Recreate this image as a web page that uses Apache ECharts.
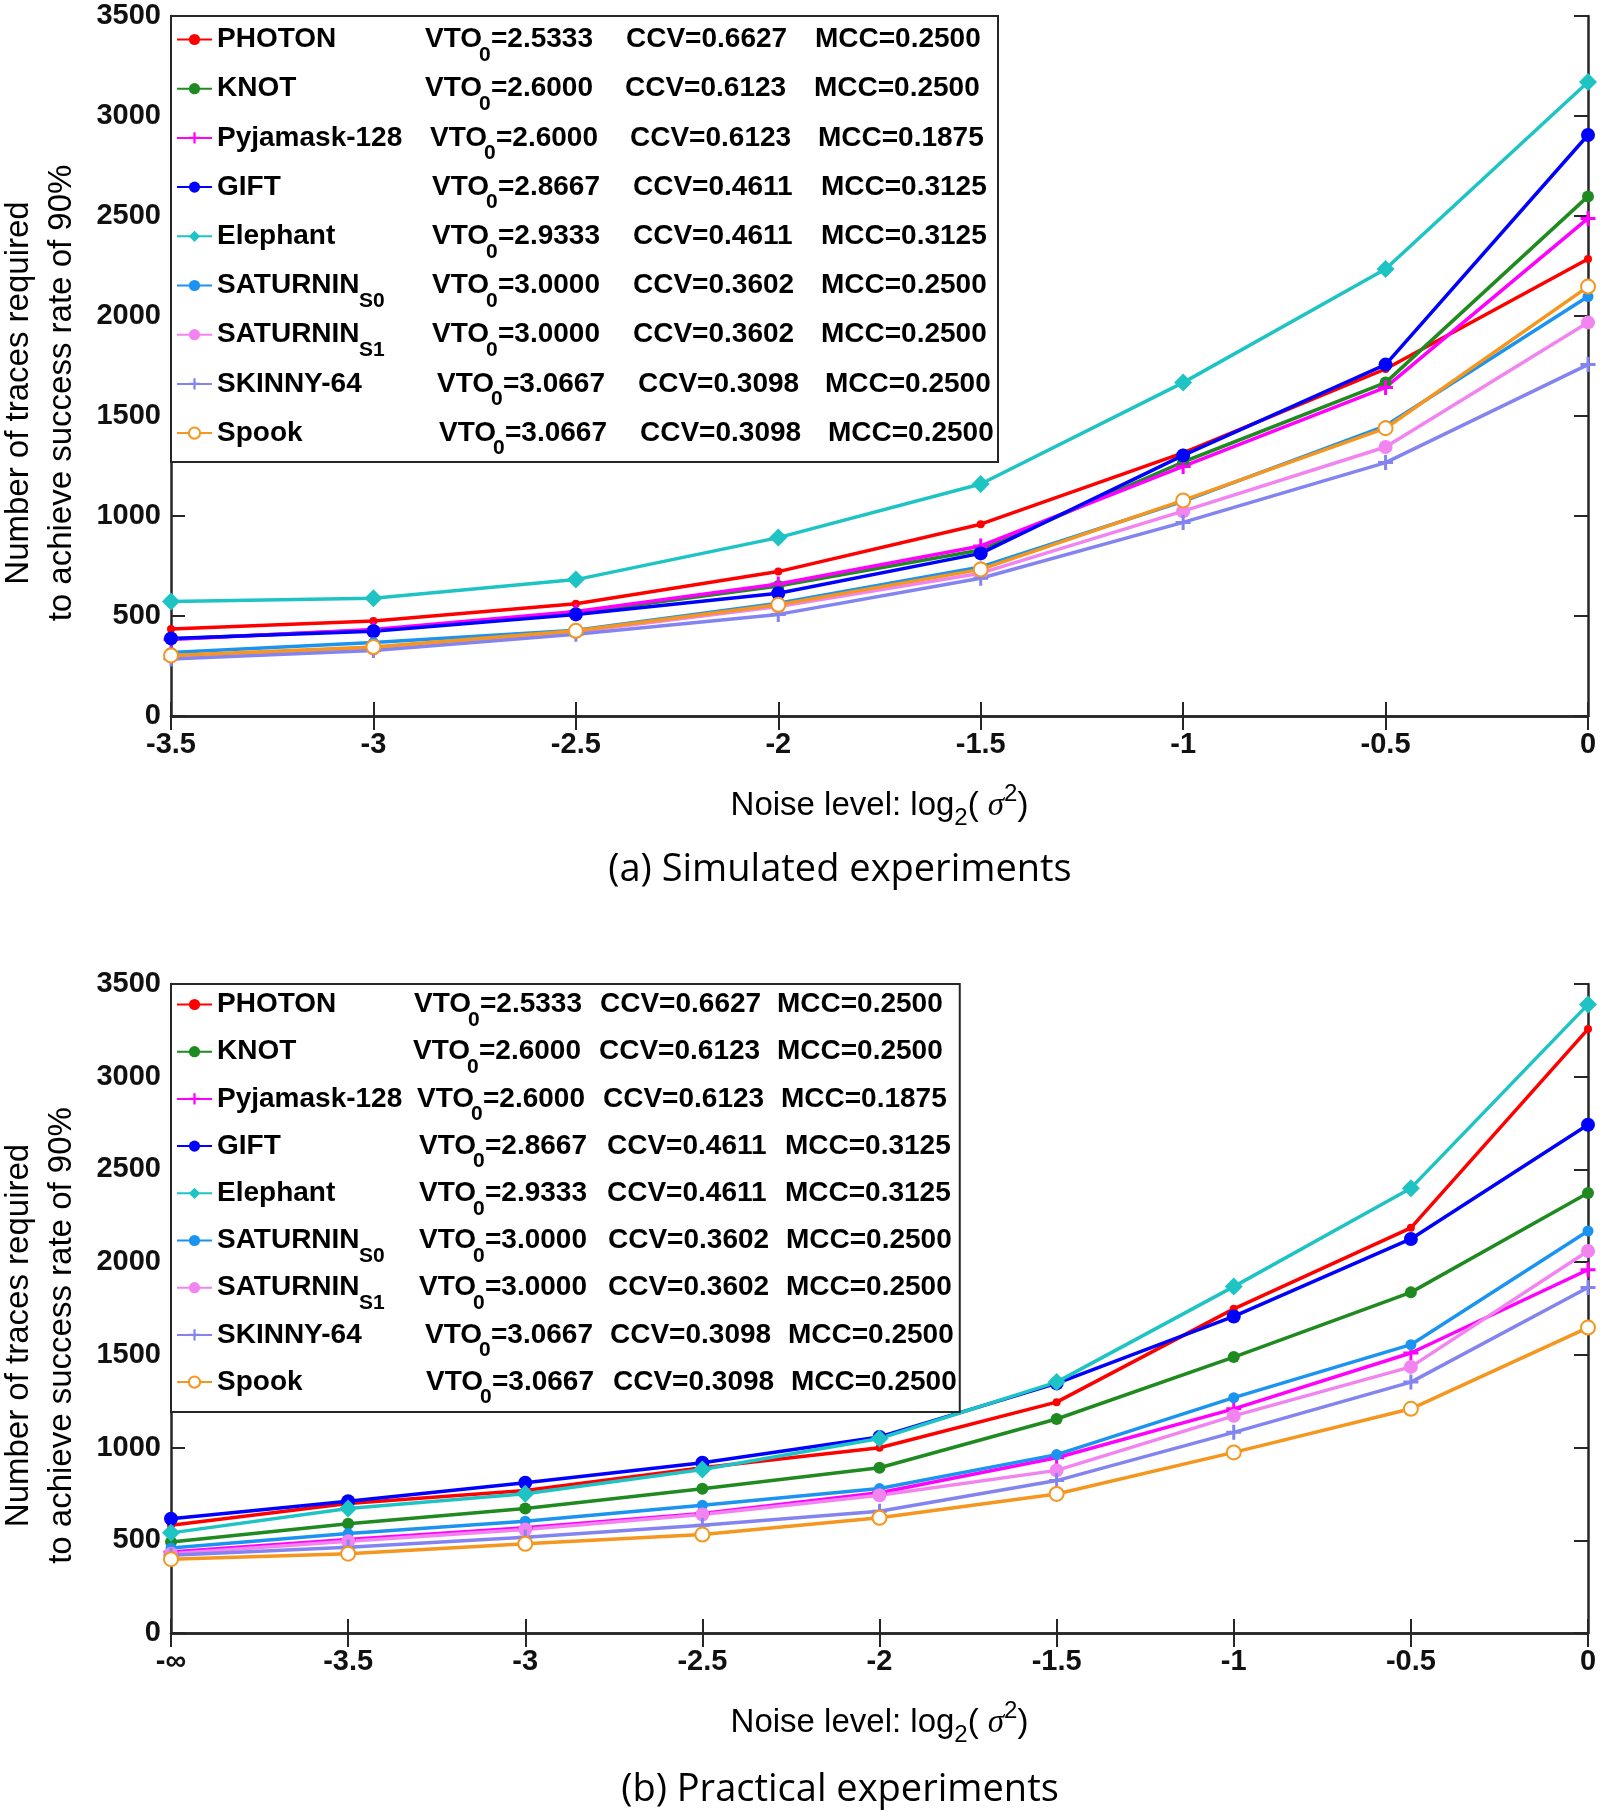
<!DOCTYPE html>
<html><head><meta charset="utf-8">
<script src="https://cdn.jsdelivr.net/npm/echarts@6/dist/echarts.min.js"></script>
<style>html,body{margin:0;padding:0;background:#fff}#c1,#c2{width:1601px;height:906px}</style>
</head><body><div id="c1"></div><div id="c2"></div>
<script>
// ---------- data ----------
const names = ['PHOTON','KNOT','Pyjamask-128','GIFT','Elephant','SATURNIN_S0','SATURNIN_S1','SKINNY-64','Spook'];
const vto = ['2.5333','2.6000','2.6000','2.8667','2.9333','3.0000','3.0000','3.0667','3.0667'];
const ccv = ['0.6627','0.6123','0.6123','0.4611','0.4611','0.3602','0.3602','0.3098','0.3098'];
const mcc = ['0.2500','0.2500','0.1875','0.3125','0.3125','0.2500','0.2500','0.2500','0.2500'];

const xSim  = ['-3.5','-3','-2.5','-2','-1.5','-1','-0.5','0'];
const xPrac = ['-\u221e','-3.5','-3','-2.5','-2','-1.5','-1','-0.5','0'];
const yMin = 0, yMax = 3500, yStep = 500;

// (a) simulated experiments
const simPHOTON   = [435, 475, 561, 722, 959, 1316, 1735, 2285];
const simKNOT     = [385, 430, 515, 650, 830, 1270, 1667, 2598];
const simPyjamask = [382, 433, 522, 660, 850, 1248, 1643, 2488];
const simGIFT     = [388, 424, 508, 614, 813, 1303, 1757, 2905];
const simElephant = [572, 589, 682, 892, 1160, 1667, 2235, 3170];
const simSatS0    = [318, 367, 429, 564, 745, 1073, 1451, 2097];
const simSatS1    = [297, 337, 421, 547, 714, 1024, 1345, 1968];
const simSkinny   = [285, 328, 409, 508, 689, 968, 1267, 1757];
const simSpook    = [303, 345, 426, 556, 733, 1078, 1439, 2147];

// (b) practical experiments
const pracPHOTON   = [581, 698, 769, 891, 999, 1245, 1748, 2185, 3257];
const pracKNOT     = [491, 589, 671, 778, 891, 1154, 1488, 1837, 2373];
const pracPyjamask = [437, 504, 567, 644, 756, 945, 1209, 1510, 1959];
const pracGIFT     = [616, 711, 810, 918, 1057, 1346, 1707, 2125, 2741];
const pracElephant = [540, 671, 751, 882, 1049, 1353, 1868, 2399, 3390];
const pracSatS0    = [459, 536, 603, 689, 779, 962, 1269, 1555, 2168];
const pracSatS1    = [428, 495, 558, 639, 743, 877, 1171, 1435, 2060];
const pracSkinny   = [419, 463, 517, 581, 657, 822, 1082, 1353, 1863];
const pracSpook    = [398, 428, 481, 531, 621, 750, 974, 1209, 1647];

const simData  = [simPHOTON, simKNOT, simPyjamask, simGIFT, simElephant, simSatS0, simSatS1, simSkinny, simSpook];
const pracData = [pracPHOTON, pracKNOT, pracPyjamask, pracGIFT, pracElephant, pracSatS0, pracSatS1, pracSkinny, pracSpook];

// ---------- styles ----------
const colors = ['#FF0000','#1F8A1F','#FF00FF','#0000FF','#1EC4C4','#1A94F0','#F284F0','#8484F0','#F5961E'];
const PLUS = 'path://M4,0 H6 V4 H10 V6 H6 V10 H4 V6 H0 V4 H4 Z';
const symbols = ['circle','circle',PLUS,'circle','diamond','circle','circle',PLUS,'emptyCircle'];
const symbolSizes = [8, 12, 15, 14, 18, 11, 14, 15, 14];
// legend column starts (VTO, CCV, MCC) per row, in page px
const colsSim  = [[424,625,814],[424,624,813],[429,629,817],[431,632,820],[431,632,820],[431,632,820],[431,632,820],[436,637,824],[438,639,827]];
const colsPrac = [[413,599,776],[412,598,776],[416,602,780],[418,606,784],[418,606,784],[418,607,785],[418,607,785],[424,609,787],[425,612,790]];

const SANS = 'Liberation Sans';
const AX = '#262626';
const SUBNAME_W = 142;

function legendRich(cols, textEnd) {
  const base = {fontSize: 28, fontWeight: 'bold', fontFamily: SANS, color: '#000', lineHeight: 34};
  const sub = {fontSize: 21, fontWeight: 'bold', fontFamily: SANS, color: '#000', lineHeight: 8, height: 10, padding: [31, 0, 0, 0]};
  const rich = {
    v:  Object.assign({}, base, {width: 54}),
    vs: Object.assign({}, sub, {width: 12})
  };
  cols.forEach((c, i) => {
    const hasSub = names[i].indexOf('_') >= 0;
    rich['n' + i] = Object.assign({}, base, {width: hasSub ? SUBNAME_W : c[0] - 216});
    rich['ns' + i] = Object.assign({}, sub, {width: c[0] - 216 - SUBNAME_W});
    rich['e' + i] = Object.assign({}, base, {width: c[1] - c[0] - 66});
    rich['c' + i] = Object.assign({}, base, {width: c[2] - c[1]});
    rich['m' + i] = Object.assign({}, base, {width: textEnd - c[2]});
  });
  return rich;
}
function legendFmt(name) {
  const i = names.indexOf(name);
  const parts = name.split('_');
  let s = '{n' + i + '|' + parts[0] + '}';
  if (parts.length > 1) s += '{ns' + i + '|' + parts[1] + '}';
  s += '{v|VTO}{vs|0}{e' + i + '|=' + vto[i] + '}{c' + i + '|CCV=' + ccv[i] + '}{m' + i + '|MCC=' + mcc[i] + '}';
  return s;
}

function makeOption(cats, data, g, leg, caption, capY) {
  const series = data.map((d, i) => ({
    name: names[i], type: 'line', data: d,
    xAxisIndex: 0, yAxisIndex: 0,
    symbol: symbols[i], symbolSize: symbolSizes[i],
    lineStyle: {width: 3.5, color: colors[i]},
    itemStyle: {color: colors[i], borderColor: colors[i], borderWidth: i === 8 ? 4 : 0},
    emphasis: {disabled: true}
  }));
  return {
    animation: false,
    backgroundColor: '#fff',
    grid: {left: 171, top: g.top, width: 1417, height: g.height, containLabel: false, outerBoundsMode: 'none'},
    xAxis: [{
      type: 'category', data: cats, boundaryGap: false, position: 'bottom',
      axisLine: {lineStyle: {color: AX, width: 2.5}},
      axisTick: {inside: true, length: 14, lineStyle: {color: AX, width: 2}},
      axisLabel: {interval: 0, margin: 14, fontSize: 29, fontWeight: 'bold', fontFamily: SANS, color: '#111'},
      splitLine: {show: false},
      name: '{a|Noise level: log}{b|2}{a|( }{s|\u03c3}{c|2}{a|)}',
      nameLocation: 'middle', nameGap: 70, nameMoveOverlap: false,
      nameTextStyle: {rich: {
        a: {fontSize: 33, fontFamily: SANS, color: '#000', lineHeight: 40},
        b: {fontSize: 24, fontFamily: SANS, color: '#000', lineHeight: 10, height: 10, padding: [24, 0, 0, 0]},
        s: {fontSize: 33, fontFamily: 'Liberation Serif', fontStyle: 'italic', color: '#000', lineHeight: 40},
        c: {fontSize: 24, fontFamily: SANS, color: '#000', lineHeight: 10, height: 10, padding: [0, 0, 24, 0]}
      }}
    }, {
      type: 'category', data: cats, boundaryGap: false, position: 'top',
      axisLine: {lineStyle: {color: AX, width: 2.5}},
      axisTick: {inside: true, length: 14, lineStyle: {color: AX, width: 2}},
      axisLabel: {show: false}, splitLine: {show: false}
    }],
    yAxis: [{
      type: 'value', min: yMin, max: yMax, interval: yStep, position: 'left',
      axisLine: {show: true, lineStyle: {color: AX, width: 2.5}},
      axisTick: {show: true, inside: true, length: 14, lineStyle: {color: AX, width: 2}},
      axisLabel: {margin: 10, fontSize: 29, fontWeight: 'bold', fontFamily: SANS, color: '#111', formatter: v => String(v)},
      splitLine: {show: false},
      name: 'Number of traces required\nto achieve success rate of 90%',
      nameLocation: 'middle', nameGap: 88, nameMoveOverlap: false,
      nameTextStyle: {fontSize: 33, fontFamily: SANS, color: '#000', lineHeight: 43, padding: [0, 54, 0, 0]}
    }, {
      type: 'value', min: yMin, max: yMax, interval: yStep, position: 'right',
      axisLine: {show: true, lineStyle: {color: AX, width: 2.5}},
      axisTick: {show: true, inside: true, length: 14, lineStyle: {color: AX, width: 2}},
      axisLabel: {show: false}, splitLine: {show: false}
    }],
    legend: {
      data: names, orient: 'vertical', left: 171, top: g.top,
      padding: leg.padding, itemGap: leg.gap, itemWidth: 35, itemHeight: 14,
      backgroundColor: '#fff', borderColor: AX, borderWidth: 2, borderRadius: 0,
      selectedMode: false, formatter: legendFmt,
      textStyle: {rich: legendRich(leg.cols, leg.textEnd)}
    },
    graphic: [{
      type: 'text', x: 840, y: capY, z: 10,
      style: {text: caption, align: 'center', verticalAlign: 'middle', fontSize: 38, fontFamily: 'Open Sans', fill: '#000'}
    }],
    series: series
  };
}

const c1 = echarts.init(document.getElementById('c1'));
c1.setOption(makeOption(xSim, simData, {top: 16, height: 700},
  {padding: [3, 3, 3, 5], gap: 2.7, cols: colsSim, textEnd: 994}, '(a) Simulated experiments', 870));
const c2 = echarts.init(document.getElementById('c2'));
c2.setOption(makeOption(xPrac, pracData, {top: 78, height: 649},
  {padding: [0, 3, 4, 5], gap: 0.7, cols: colsPrac, textEnd: 945}, '(b) Practical experiments', 884));
</script></body></html>
